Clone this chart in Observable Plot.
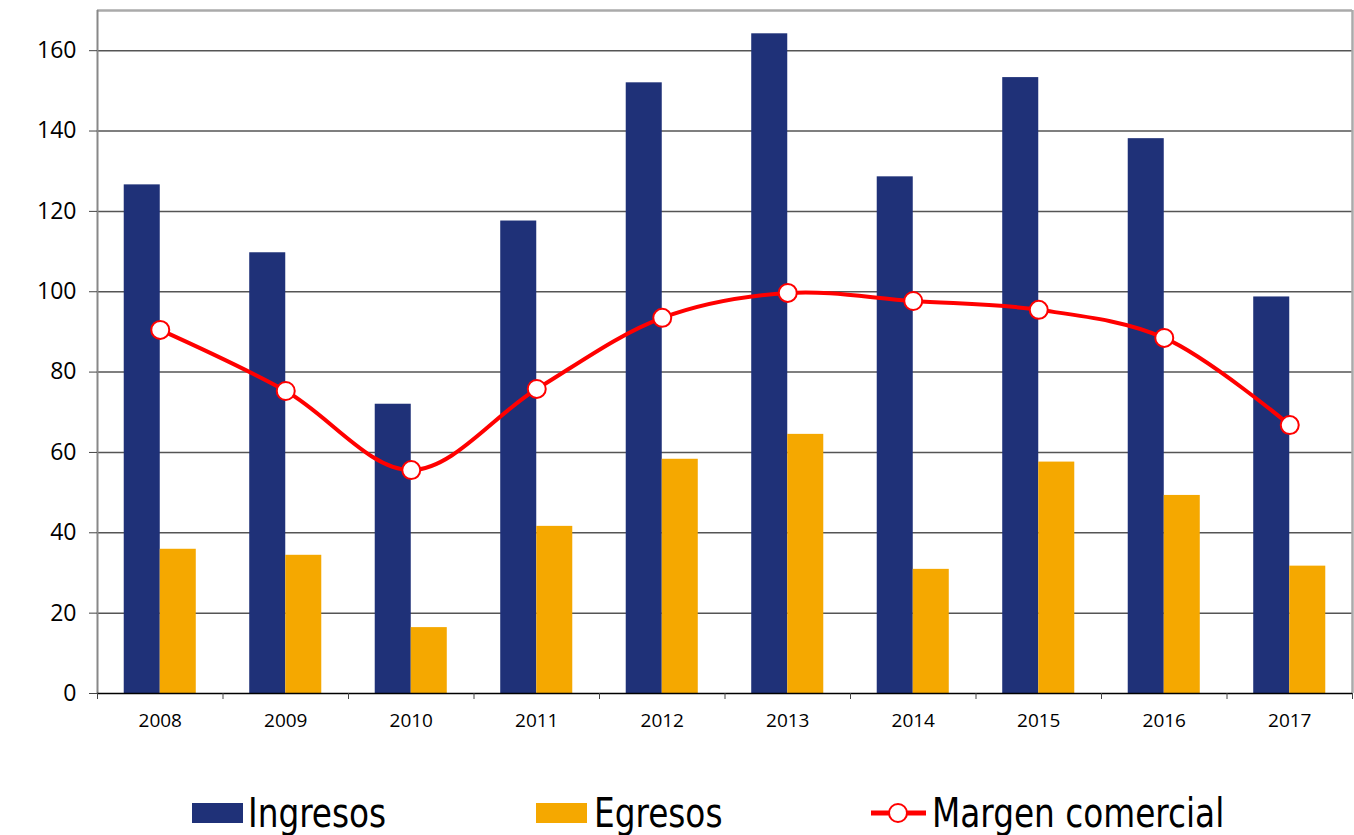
<!DOCTYPE html>
<html>
<head>
<meta charset="utf-8">
<script src="https://cdn.jsdelivr.net/npm/d3@7"></script>
<script src="https://cdn.jsdelivr.net/npm/@observablehq/plot@0.6"></script>
<style>
  html, body { margin: 0; padding: 0; background: #fff; }
  #wrap { position: relative; width: 1354px; height: 835px; }
  .leg { position: absolute; top: 790px; height: 46px; display: flex; align-items: center;
         font-family: "Liberation Sans Narrow", "DejaVu Sans Condensed", sans-serif; font-size: 40px; color: #000; }
  .leg span { display: inline-block; transform: scaleX(0.91); transform-origin: left center; white-space: nowrap; }
  .sw { width: 51px; height: 20px; margin-right: 5px; }
</style>
</head>
<body>
<div id="wrap">
  <div id="chart"></div>
  <div class="leg" style="left:192px"><div class="sw" style="background:#1f3178"></div><span>Ingresos</span></div>
  <div class="leg" style="left:536px"><div class="sw" style="background:#f5a800;margin-right:7px"></div><span>Egresos</span></div>
  <div class="leg" style="left:870px">
    <svg width="57" height="24" style="margin-right:5px"><line x1="1" y1="12" x2="56" y2="12" stroke="#ff0000" stroke-width="5"/><circle cx="28" cy="12" r="9" fill="#fff" stroke="#ff0000" stroke-width="2"/></svg>
    <span>Margen comercial</span></div>
</div>
<script>
const years = [2008, 2009, 2010, 2011, 2012, 2013, 2014, 2015, 2016, 2017];
const ingresos = [126.6, 109.7, 72.0, 117.6, 152.0, 164.2, 128.6, 153.3, 138.1, 98.7];
const egresos = [35.9, 34.4, 16.4, 41.6, 58.3, 64.5, 30.9, 57.6, 49.3, 31.7];
const margen = [90.5, 75.3, 55.6, 75.8, 93.5, 99.7, 97.7, 95.5, 88.5, 66.8];
const yTicks = [0, 20, 40, 60, 80, 100, 120, 140, 160];

const data = years.map((y, i) => ({year: y, ingresos: ingresos[i], egresos: egresos[i], margen: margen[i]}));
const boundaries = [...years.map(y => y - 0.5), years[years.length - 1] + 0.5];
const bw = 0.287; // bar width in category units

const chart = Plot.plot({
  width: 1354,
  height: 745,
  marginLeft: 97,
  marginRight: 2,
  marginTop: 10,
  marginBottom: 52,
  style: {fontFamily: "'Open Sans', sans-serif", fontSize: "23px", color: "#000", background: "#fff"},
  x: {type: "linear", domain: [boundaries[0], boundaries[boundaries.length - 1]]},
  y: {domain: [0, 170]},
  marks: [
    Plot.ruleY(yTicks.slice(1), {stroke: "#555", strokeWidth: 1.5}),
    Plot.ruleY([170], {stroke: "#aaa", strokeWidth: 2.5}),
    Plot.ruleX([boundaries[boundaries.length - 1]], {stroke: "#aaa", strokeWidth: 2.5}),
    Plot.ruleX([boundaries[0]], {stroke: "#888", strokeWidth: 2}),
    Plot.rectY(data, {x1: d => d.year - bw, x2: d => d.year, y: "ingresos", fill: "#1f3178"}),
    Plot.rectY(data, {x1: d => d.year, x2: d => d.year + bw, y: "egresos", fill: "#f5a800"}),
    Plot.ruleY([0], {stroke: "#000", strokeWidth: 1.5}),
    Plot.line(data, {x: "year", y: "margen", stroke: "#ff0000", strokeWidth: 4, curve: "catmull-rom"}),
    Plot.dot(data, {x: "year", y: "margen", r: 9, fill: "#fff", stroke: "#ff0000", strokeWidth: 2}),
    Plot.axisY({ticks: yTicks, tickSize: 8, tickPadding: 13, stroke: "#444", fontSize: 23, label: null}),
    Plot.axisX({ticks: boundaries, tickSize: 6, tickFormat: () => "", stroke: "#444", label: null}),
    Plot.axisX({ticks: years, tickSize: 0, tickPadding: 20, tickFormat: d => String(d), fontSize: 19, label: null})
  ]
});
document.getElementById("chart").appendChild(chart);
</script>
</body>
</html>
